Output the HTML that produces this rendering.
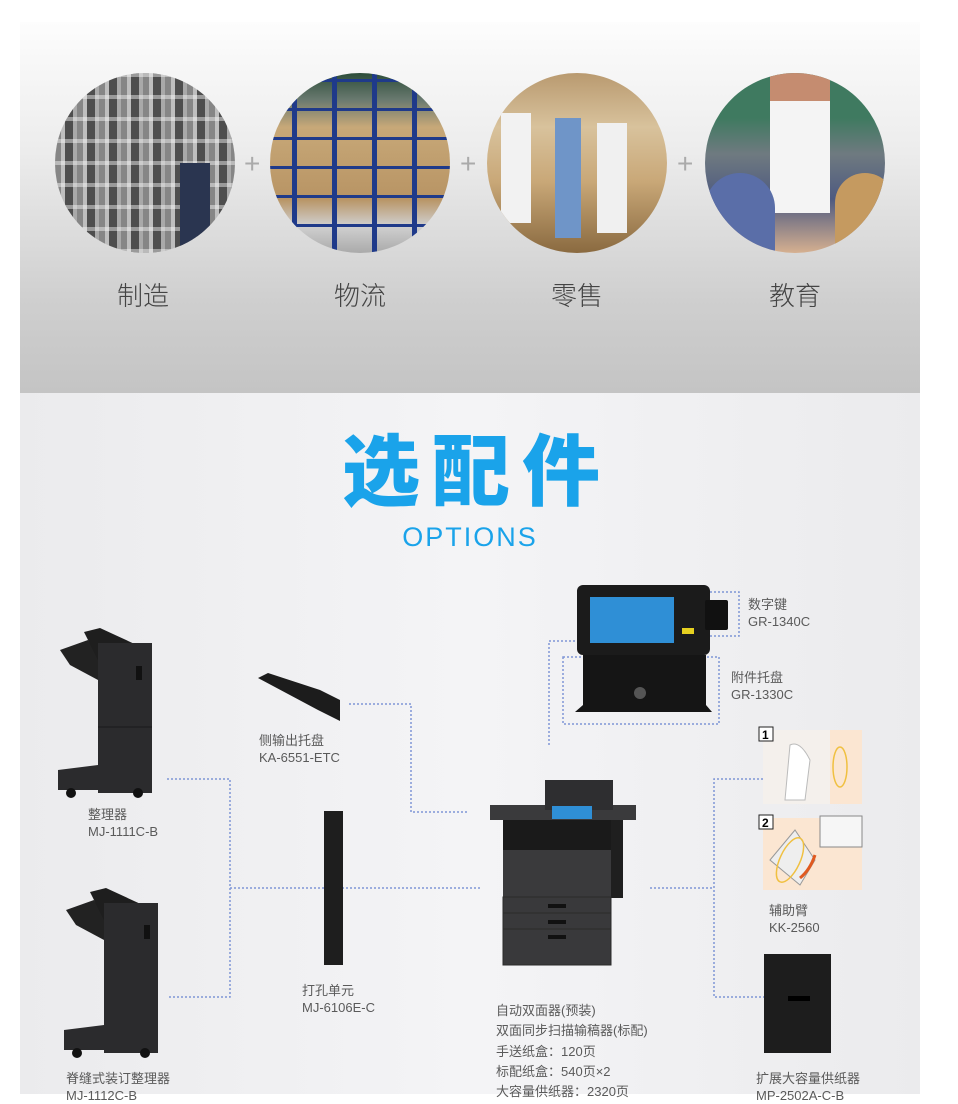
<!DOCTYPE html>
<html><head><meta charset="utf-8"><style>
*{margin:0;padding:0;box-sizing:border-box}
body{width:958px;height:1094px;background:#fff;position:relative;overflow:hidden;font-family:"Liberation Sans","Noto Sans CJK SC",sans-serif}
.abs{position:absolute}
#top{left:20px;top:22px;width:900px;height:371px;background:linear-gradient(#fdfdfd 0%,#ececec 35%,#cfcfcf 75%,#c4c4c4 100%)}
#bot{left:20px;top:393px;width:900px;height:701px;background:linear-gradient(90deg,#ebebed,#f4f4f6 50%,#ebebed)}
.c{position:absolute;width:180px;height:180px;border-radius:50%;top:73px;overflow:hidden}
.lab{position:absolute;top:276px;font-size:26px;color:#444;width:120px;text-align:center;font-family:"Noto Sans CJK SC",sans-serif;font-weight:300}
.plus{position:absolute;top:148px;font-size:28px;color:#aaa;font-weight:200}
.t{position:absolute;font-size:13px;color:#5a5a5a;line-height:17px;white-space:nowrap}
svg{position:absolute;left:0;top:0}
</style></head><body>
<div id="top" class="abs"></div>
<div id="bot" class="abs"></div>

<div class="c" style="left:55px;background:repeating-linear-gradient(90deg,#8a8a8a 0 6px,#cfcfcf 6px 10px,#444 10px 18px,#b5b5b5 18px 22px),#777"><div class="abs" style="left:0;top:0;width:180px;height:180px;background:repeating-linear-gradient(0deg,rgba(225,225,225,.55) 0 4px,rgba(120,120,120,.2) 4px 22px)"></div><div class="abs" style="left:125px;top:90px;width:30px;height:90px;background:#2a3550"></div></div>
<div class="c" style="left:270px;background:linear-gradient(#2d4d3a 0,#6a7a70 15%,#c7a878 30%,#b89464 70%,#d0d0d0 85%,#aaa)"><div class="abs" style="inset:0;background:repeating-linear-gradient(90deg,transparent 0 22px,#1f3a8a 22px 27px,transparent 27px 40px)"></div><div class="abs" style="inset:0;background:repeating-linear-gradient(0deg,transparent 0 26px,#1f3a8a 26px 29px)"></div></div>
<div class="c" style="left:487px;background:linear-gradient(#b99a70,#d8c29c 30%,#c9a878 60%,#8a6a40)"><div class="abs" style="left:14px;top:40px;width:30px;height:110px;background:#f2f2f2"></div><div class="abs" style="left:68px;top:45px;width:26px;height:120px;background:#6f95c8"></div><div class="abs" style="left:110px;top:50px;width:30px;height:110px;background:#f0f0f0"></div></div>
<div class="c" style="left:705px;background:linear-gradient(#3f7a60 0,#3f7a60 25%,#6f7a80 45%,#4e5a80 70%,#d6b090)"><div class="abs" style="left:65px;top:0;width:60px;height:140px;background:linear-gradient(#c58c70 0 20%,#f4f4f4 20%)"></div><div class="abs" style="left:0;top:100px;width:70px;height:80px;border-radius:40px 40px 0 0;background:#5a6ea8"></div><div class="abs" style="left:130px;top:100px;width:60px;height:80px;border-radius:30px 30px 0 0;background:#c59a60"></div></div>

<div class="plus" style="left:244px">+</div><div class="plus" style="left:460px">+</div><div class="plus" style="left:677px">+</div>
<div class="lab" style="left:83px">制造</div><div class="lab" style="left:300px">物流</div><div class="lab" style="left:517px">零售</div><div class="lab" style="left:735px">教育</div>

<div class="abs" style="left:250px;top:416px;width:454px;text-align:center;font-size:78px;font-weight:900;color:#1aa3ea;letter-spacing:12px;font-family:'Noto Sans CJK SC',sans-serif;line-height:100px">选配件</div>
<div class="abs" style="left:370px;top:522px;width:200px;text-align:center;font-size:27px;color:#1aa3ea;letter-spacing:2px;font-weight:300">OPTIONS</div>

<svg width="958" height="1094">
<g stroke="#7f96d6" stroke-width="1.5" stroke-dasharray="2 2" fill="none">
<path d="M167 779H230V997H167M230 888H480"/>
<path d="M349 704H411V812H467"/>
<path d="M549 745V641H577"/>
<rect x="563" y="657" width="156" height="67"/>
<path d="M710 592H739V636H710"/>
<path d="M763 779H714V997H764M650 888H714"/>
</g>
<g fill="#2b2b2d">
<path d="M60 650L88 640L98 655L98 680L70 665Z" fill="#222"/>
<path d="M84 632L100 628L152 652V665L98 660Z" fill="#1e1e1e"/>
<rect x="98" y="643" width="54" height="150"/>
<path d="M58 770L98 765V790H58Z"/><circle cx="71" cy="793" r="5" fill="#111"/><circle cx="138" cy="793" r="5" fill="#111"/>
<rect x="136" y="666" width="6" height="14" fill="#111"/>
<path d="M98 727H152" stroke="#1a1a1a"/>
<path d="M66 910L94 900L104 915L104 940L76 925Z" fill="#222"/>
<path d="M90 892L106 888L158 912V925L104 920Z" fill="#1e1e1e"/>
<rect x="104" y="903" width="54" height="150"/>
<path d="M64 1030L104 1025V1050H64Z"/><circle cx="77" cy="1053" r="5" fill="#111"/><circle cx="145" cy="1053" r="5" fill="#111"/>
<rect x="144" y="925" width="6" height="14" fill="#111"/>
<path d="M258 678L268 673L320 690L340 700V721L318 710Z" fill="#1c1c1c"/>
<rect x="324" y="811" width="19" height="154" fill="#1e1e1e"/>
<rect x="577" y="585" width="133" height="70" rx="6" fill="#1b1b1b"/>
<rect x="590" y="597" width="84" height="46" fill="#2f8fd6"/>
<rect x="682" y="628" width="12" height="6" fill="#e6d020"/>
<rect x="705" y="600" width="23" height="30" rx="2" fill="#111"/>
<path d="M577 655H706V705L712 712H575L583 705V655Z" fill="#151515"/>
<circle cx="640" cy="693" r="6" fill="#555"/>
<path d="M490 805H636V820H490Z" fill="#3a3a3c"/>
<rect x="545" y="780" width="68" height="30" fill="#2e2e30"/>
<rect x="552" y="806" width="40" height="13" fill="#2f8fd6"/>
<rect x="503" y="820" width="108" height="30" fill="#1a1a1a"/>
<rect x="503" y="850" width="108" height="47" fill="#3a3a3c"/>
<rect x="611" y="820" width="12" height="78" fill="#1f1f1f"/>
<rect x="503" y="897" width="108" height="68" fill="#39393b" stroke="#2a2a2a"/>
<path d="M503 913H611M503 929H611" stroke="#2a2a2a"/>
<rect x="548" y="904" width="18" height="4" fill="#111"/><rect x="548" y="920" width="18" height="4" fill="#111"/><rect x="548" y="935" width="18" height="4" fill="#111"/>
<rect x="764" y="954" width="67" height="99" fill="#1d1d1d"/>
<rect x="788" y="996" width="22" height="5" fill="#000"/>
</g>
<rect x="763" y="730" width="99" height="74" fill="#f4f0ec"/>
<rect x="830" y="730" width="32" height="74" fill="#fbe6d2"/>
<path d="M790 745Q800 740 810 760L805 800H785Z" fill="#fff" stroke="#bbb"/>
<ellipse cx="840" cy="767" rx="7" ry="20" fill="none" stroke="#f0c040" stroke-width="1.5"/>
<rect x="759" y="727" width="14" height="14" fill="#fff" stroke="#222"/><text x="762" y="739" font-size="12" font-weight="bold" font-family="Liberation Sans">1</text>
<rect x="763" y="818" width="99" height="72" fill="#fbe6d2"/>
<path d="M770 860L795 830L815 860L800 885Z" fill="#eee" stroke="#999"/>
<ellipse cx="790" cy="860" rx="10" ry="24" fill="none" stroke="#f0c040" stroke-width="1.5" transform="rotate(25 790 860)"/>
<path d="M815 855Q810 870 800 878" stroke="#e05a20" stroke-width="3" fill="none"/>
<rect x="820" y="816" width="42" height="31" fill="#f6f6f6" stroke="#888"/>
<rect x="759" y="815" width="14" height="14" fill="#fff" stroke="#222"/><text x="762" y="827" font-size="12" font-weight="bold" font-family="Liberation Sans">2</text>
</svg>

<div class="t" style="left:259px;top:732px">侧输出托盘<br>KA-6551-ETC</div>
<div class="t" style="left:88px;top:806px">整理器<br>MJ-1111C-B</div>
<div class="t" style="left:302px;top:982px">打孔单元<br>MJ-6106E-C</div>
<div class="t" style="left:66px;top:1070px">脊缝式装订整理器<br>MJ-1112C-B</div>
<div class="t" style="left:748px;top:596px">数字键<br>GR-1340C</div>
<div class="t" style="left:731px;top:669px">附件托盘<br>GR-1330C</div>
<div class="t" style="left:769px;top:902px">辅助臂<br>KK-2560</div>
<div class="t" style="left:756px;top:1070px">扩展大容量供纸器<br>MP-2502A-C-B</div>
<div class="t" style="left:496px;top:1001px;line-height:20.3px">自动双面器(预装)<br>双面同步扫描输稿器(标配)<br>手送纸盒：120页<br>标配纸盒：540页×2<br>大容量供纸器：2320页</div>
</body></html>
